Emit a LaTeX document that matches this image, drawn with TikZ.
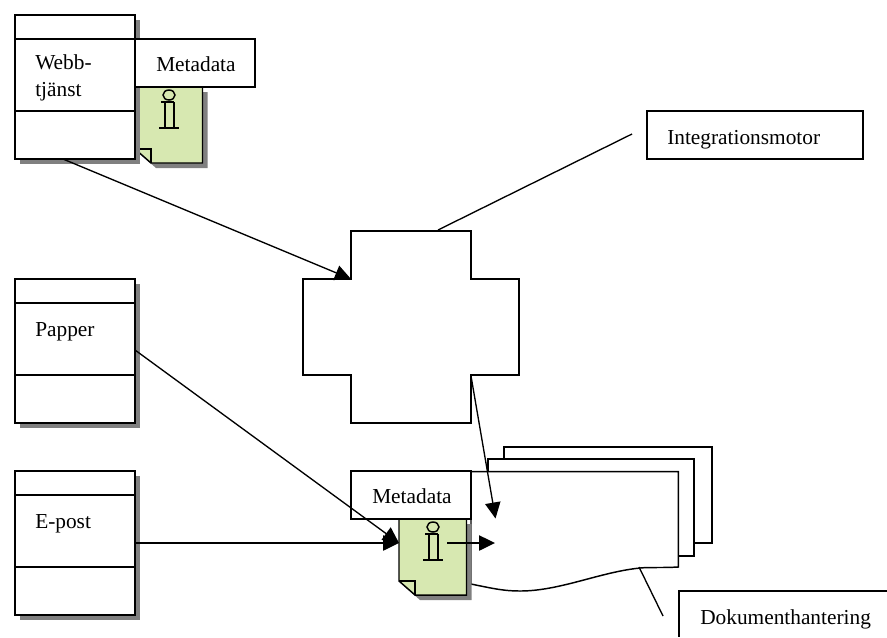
\documentclass[tikz,border=0pt]{standalone}
\usepackage{fontspec}
\setmainfont{Liberation Serif}
\usetikzlibrary{arrows.meta,shadows}
\definecolor{notegreen}{HTML}{D7E8B1}
\definecolor{shadowgrey}{HTML}{808080}
\tikzset{
  line/.style={line width=1.1pt,draw=black},
  arr/.style={line width=1pt,draw=black,-{Triangle[length=12pt,width=11.5pt]}},
  thin/.style={line width=1pt,draw=black},
  label/.style={inner sep=0pt,anchor=base west,font=\fontsize{16}{18}\selectfont},
  labelbox/.style={line,fill=white,rectangle,inner sep=0pt,outer sep=0pt,minimum width=90pt,minimum height=36pt},
  sourcebox/.style={line,fill=white,rectangle,inner sep=0pt,outer sep=0pt,minimum width=90pt,minimum height=108pt,
    copy shadow={draw=none,fill=shadowgrey,shadow xshift=3.75pt,shadow yshift=-3.75pt}},
  infonote/.pic={
    \fill[shadowgrey,shift={(5,5)}] (0,0)--(67.5,0)--(67.5,76)--(16,76)--(0,62)--cycle;
    \path[line,fill=notegreen] (0,0)--(67.5,0)--(67.5,76)--(16,76)--(0,62)--cycle;
    \draw[line] (0,62)--(16,62)--(16,76);
    \draw[line] (34,8) ellipse [x radius=6,y radius=5];
    \draw[line] (26,15)--(30,15)--(30,41)--(39,41)--(39,15);
    \draw[line] (30,15)--(39,15);
    \draw[line width=1.8pt] (24,41)--(44,41);
  }
}
\begin{document}
\begin{tikzpicture}[x=0.75pt,y=-0.75pt]
\useasboundingbox (0,0) rectangle (887,637);
% document stack
\draw[line,fill=white] (504,459)--(504,447)--(712,447)--(712,543)--(694,543);
\draw[line,fill=white] (488,472)--(488,459)--(694,459)--(694,556)--(678,556);
\draw[line,fill=white] (471,584)--(471,471.6)--(678.3,471.6)--(678.3,567)
  .. controls (660,568) and (650,567) .. (640,568)
  .. controls (600,572) and (560,591) .. (520,591)
  .. controls (505,591) and (495,589) .. (471,584);
% cross
\draw[line,fill=white] (351,231)--(471,231)--(471,279)--(519,279)--(519,375)--(471,375)--(471,423)--(351,423)--(351,375)--(303,375)--(303,279)--(351,279)--cycle;
\coordinate (crossIn) at (351,279);
\coordinate (crossTop) at (438,230);
\coordinate (crossOut) at (471,376);
% info notes
\pic at (135,87) {infonote};
\pic at (399,519) {infonote};
% source boxes
\node[sourcebox] (web) at (75,87) {};
\node[sourcebox] (paper) at (75,351) {};
\node[sourcebox] (mail) at (75,543) {};
\draw[line] (15,39)--(135,39) (15,111)--(135,111);
\draw[line] (15,303)--(135,303) (15,375)--(135,375);
\draw[line] (15,495)--(135,495) (15,567)--(135,567);
\node[label] (webtext1) at (35,69) {Webb-};
\node[label] (webtext2) at (35,96) {tjänst};
\node[label] (papertext) at (35,336) {Papper};
\node[label] (mailtext) at (35,528) {E-post};
% label boxes
\node[labelbox] (meta1) at (195,63) {};
\node[label] (meta1text) at (156,71) {Metadata};
\node[labelbox] (meta2) at (411,495) {};
\node[label] (meta2text) at (372,503) {Metadata};
\node[labelbox,minimum width=162pt] (engine) at (755,135) {};
\node[label] (enginetext) at (667,144) {Integrationsmotor};
\draw[line,fill=white] (887,591)--(679,591)--(679,637);
\node[label] (dmtext) at (700,624) {Dokumenthantering};
% connector ends
\coordinate (webOut) at (63,159);
\coordinate (paperOut) at (135,350);
\coordinate (mailOut) at (135,543);
\coordinate (noteIn) at (399,543);
\coordinate (noteOut) at (447,543);
\coordinate (docIn) at (495,543);
\coordinate (docTop) at (495.5,518.5);
\coordinate (engineEnd) at (632,134);
\coordinate (docEdge) at (639,567);
\coordinate (dmEnd) at (663,616);
% connectors
\draw[arr] (webOut)--(crossIn);
\draw[thin] (crossTop)--(engineEnd);
\draw[arr] (crossOut)--(docTop);
\draw[arr] (paperOut)--(noteIn);
\draw[arr] (mailOut)--(noteIn);
\draw[arr] (noteOut)--(docIn);
\draw[thin] (docEdge)--(dmEnd);
\end{tikzpicture}
\end{document}
